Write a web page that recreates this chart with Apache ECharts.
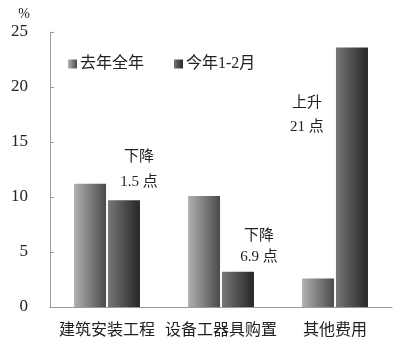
<!DOCTYPE html>
<html lang="zh">
<head>
<meta charset="UTF-8">
<title>投资构成</title>
<style>
    * { margin: 0; padding: 0; }
    #chart { width: 400px; height: 353px; background: #fff; }
</style>
<script src="https://cdn.jsdelivr.net/npm/echarts@6/dist/echarts.min.js"></script>
</head>
<body>
<div id="chart"></div>
<script>
// 数据
var categories = ['建筑安装工程', '设备工器具购置', '其他费用'];
var seriesNames = ['去年全年', '今年1-2月'];
var lastYear = [11.2, 10.1, 2.6];
var thisYear = [9.7, 3.2, 23.6];
var notes = ['下降\n1.5 点', '下降\n6.9 点', '上升\n21 点'];
var yTicks = [0, 5, 10, 15, 20, 25];

var font = '"Liberation Serif", "Noto Sans CJK SC", serif';

function grad(c0, c1) {
    return {
        type: 'linear', x: 0, y: 0, x2: 1, y2: 0,
        colorStops: [{ offset: 0, color: c0 }, { offset: 1, color: c1 }]
    };
}

var noteStyle = { color: '#222', fontSize: 15, fontFamily: font };

var chart = echarts.init(document.getElementById('chart'));
chart.setOption({
    animation: false,
    grid: { left: 50, right: 8, top: 32, bottom: 46 },
    legend: {
        left: 63, top: 51,
        itemWidth: 9, itemHeight: 9, itemGap: 30,
        icon: 'rect',
        textStyle: { fontSize: 16, color: '#222', fontFamily: font, padding: [0, 0, 0, -2] },
        data: seriesNames
    },
    xAxis: {
        type: 'category',
        data: categories,
        axisLine: { lineStyle: { color: '#999' } },
        axisTick: { inside: true, length: 4, lineStyle: { color: '#999' } },
        axisLabel: { color: '#222', fontSize: 16, margin: 16, fontFamily: font, interval: 0 }
    },
    yAxis: {
        type: 'value',
        min: yTicks[0], max: yTicks[yTicks.length - 1], interval: 5,
        name: '%',
        nameGap: 11,
        nameTextStyle: { color: '#222', fontSize: 14, fontFamily: font, align: 'right', padding: [0, 20, 0, 0] },
        splitLine: { show: false },
        axisLine: { show: true, lineStyle: { color: '#999' } },
        axisTick: { show: true, inside: true, length: 4, lineStyle: { color: '#999' } },
        axisLabel: { color: '#222', fontSize: 17, margin: 22, fontFamily: font }
    },
    series: [{
        name: seriesNames[0],
        type: 'bar',
        barWidth: 32,
        barGap: '6%',
        itemStyle: { color: grad('#b2b2b2', '#4a4a4a') },
        data: lastYear
    }, {
        name: seriesNames[1],
        type: 'bar',
        barWidth: 32,
        itemStyle: { color: grad('#777777', '#262626') },
        data: thisYear.map(function (v, i) {
            var lab;
            if (i === 0) {
                lab = Object.assign({ show: true, position: 'top', distance: 6, offset: [15, 0], lineHeight: 25 }, noteStyle);
            } else if (i === 1) {
                lab = Object.assign({ show: true, position: 'top', distance: 4, offset: [21, 0], lineHeight: 21 }, noteStyle);
            } else {
                lab = Object.assign({ show: true, position: [-29, 68], align: 'center', verticalAlign: 'middle', lineHeight: 24 }, noteStyle);
            }
            lab.formatter = notes[i];
            return { value: v, label: lab };
        })
    }]
});
</script>
</body>
</html>
